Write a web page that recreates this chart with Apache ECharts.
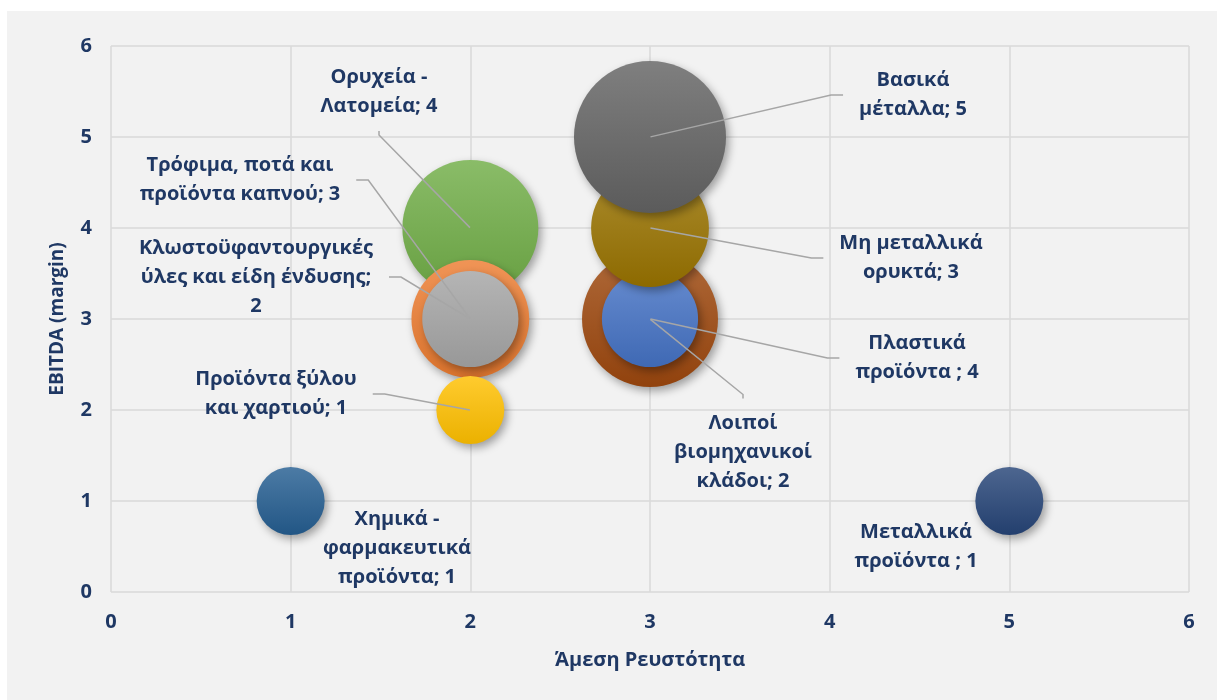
<!DOCTYPE html>
<html>
<head>
<meta charset="utf-8">
<script src="https://cdn.jsdelivr.net/npm/echarts@6/dist/echarts.min.js"></script>
<style>
  html, body { margin: 0; padding: 0; background: #ffffff; }
  #chart { position: absolute; left: 7px; top: 11px; width: 1210px; height: 689px; background: #f2f2f2; }
</style>
</head>
<body>
<div id="chart"></div>
<script>
(function () {
    // sectors (with the line breaks used in the labels)
    const sectors = [
        'Ορυχεία -\nΛατομεία',
        'Τρόφιμα, ποτά και\nπροϊόντα καπνού',
        'Κλωστοϋφαντουργικές\nύλες και είδη ένδυσης',
        'Προϊόντα ξύλου\nκαι χαρτιού',
        'Πλαστικά\nπροϊόντα ',
        'Λοιποί\nβιομηχανικοί\nκλάδοι',
        'Μη μεταλλικά\nορυκτά',
        'Βασικά\nμέταλλα',
        'Χημικά -\nφαρμακευτικά\nπροϊόντα',
        'Μεταλλικά\nπροϊόντα '
    ];
    const liquidity = [2, 2, 2, 2, 3, 3, 3, 3, 1, 5];   // Άμεση Ρευστότητα
    const ebitda = [4, 3, 3, 2, 3, 3, 4, 5, 1, 1];      // EBITDA (margin)
    const bubble = [4, 3, 2, 1, 4, 2, 3, 5, 1, 1];      // bubble value
    const axisTicks = [0, 1, 2, 3, 4, 5, 6];

    // styles
    const colors = ['#70AD47', '#ED7D31', '#A5A5A5', '#FFC000', '#9E480E',
        '#4472C4', '#997300', '#636363', '#255E91', '#264478'];
    // label centre (px, inside the chart div), separator before the value
    const labelPos = [
        [372, 81, '; '], [233, 169, '; '], [249, 266, ';\n'], [269, 383, '; '],
        [910, 347, '; '], [736, 441, '; '], [904, 247, '; '], [906, 84, '; '],
        [390, 537, '; '], [909, 536, '; ']
    ];
    const navy = '#1f3864';
    const font = 'Open Sans';

    function mix(hex, target, t) {
        const n = parseInt(hex.slice(1), 16);
        const c = [(n >> 16) & 255, (n >> 8) & 255, n & 255];
        return 'rgb(' + c.map(function (v) {
            return Math.round(v + (target - v) * t);
        }).join(',') + ')';
    }

    const bubbleData = sectors.map(function (name, i) {
        return {
            name: name,
            value: [liquidity[i], ebitda[i], bubble[i]],
            itemStyle: {
                color: new echarts.graphic.LinearGradient(0, 0, 0, 1, [
                    { offset: 0, color: mix(colors[i], 255, 0.18) },
                    { offset: 1, color: mix(colors[i], 0, 0.08) }
                ])
            }
        };
    });

    const labelData = sectors.map(function (name, i) {
        const item = { name: name, value: [liquidity[i], ebitda[i], bubble[i]] };
        if (i >= 8) {
            item.labelLine = { show: false };
        }
        if (i === 0 || i === 5) {
            item.labelLine = { length2: 4 };
        }
        return item;
    });

    const option = {
        animation: false,
        grid: { left: 104, right: 28, top: 35, bottom: 108 },
        xAxis: {
            type: 'value',
            min: axisTicks[0],
            max: axisTicks[axisTicks.length - 1],
            interval: 1,
            name: 'Άμεση Ρευστότητα',
            nameLocation: 'middle',
            nameGap: 58,
            nameMoveOverlap: false,
            nameTextStyle: { color: navy, fontFamily: font, fontWeight: 'bold', fontSize: 20 },
            axisLine: { show: false },
            axisTick: { show: false },
            axisLabel: { color: navy, fontFamily: font, fontWeight: 'bold', fontSize: 20, margin: 20 },
            splitLine: { lineStyle: { color: '#d9d9d9', width: 1.5 } }
        },
        yAxis: {
            type: 'value',
            min: axisTicks[0],
            max: axisTicks[axisTicks.length - 1],
            interval: 1,
            name: 'EBITDA (margin)',
            nameLocation: 'middle',
            nameGap: 44,
            nameMoveOverlap: false,
            nameTextStyle: { color: navy, fontFamily: font, fontWeight: 'bold', fontSize: 19 },
            axisLine: { show: false },
            axisTick: { show: false },
            axisLabel: { color: navy, fontFamily: font, fontWeight: 'bold', fontSize: 20, margin: 19 },
            splitLine: { lineStyle: { color: '#d9d9d9', width: 1.5 } }
        },
        series: [
            {
                type: 'scatter',
                data: bubbleData,
                symbolSize: function (val) {
                    return 68 * Math.sqrt(val[2]);
                },
                itemStyle: {
                    opacity: 1,
                    shadowBlur: 8,
                    shadowOffsetX: 3,
                    shadowOffsetY: 4,
                    shadowColor: 'rgba(0,0,0,0.35)'
                },
                silent: true
            },
            {
                type: 'scatter',
                z: 5,
                data: labelData,
                symbolSize: 1,
                itemStyle: { color: 'rgba(0,0,0,0)', opacity: 1 },
                silent: true,
                label: {
                    show: true,
                    color: navy,
                    opacity: 1,
                    fontFamily: font,
                    fontWeight: 'bold',
                    fontSize: 20,
                    lineHeight: 29,
                    align: 'center',
                    padding: [10, 16],
                    formatter: function (p) {
                        return p.name + labelPos[p.dataIndex][2] + p.value[2];
                    }
                },
                labelLine: {
                    show: true,
                    length2: 12,
                    lineStyle: { color: '#a6a6a6', width: 1.5, opacity: 1 }
                },
                labelLayout: function (p) {
                    const pos = labelPos[p.dataIndex];
                    return { x: pos[0], y: pos[1], align: 'center', verticalAlign: 'middle' };
                }
            }
        ]
    };

    const myChart = echarts.init(document.getElementById('chart'));
    myChart.setOption(option);
}());
</script>
</body>
</html>
